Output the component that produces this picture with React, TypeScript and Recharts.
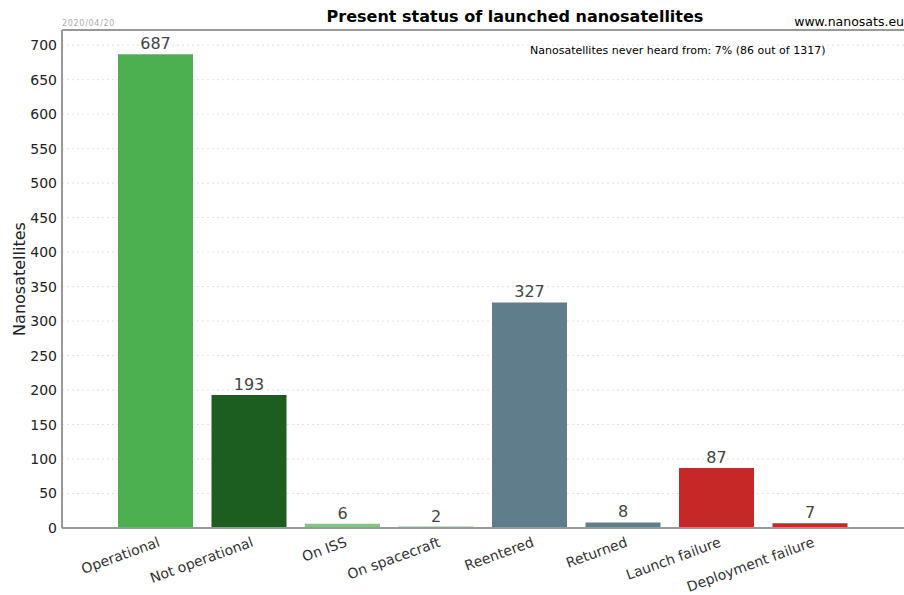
import { BarChart, Bar, XAxis, YAxis, CartesianGrid, Cell, LabelList, ReferenceLine } from "recharts";

const categories = [
  "Operational",
  "Not operational",
  "On ISS",
  "On spacecraft",
  "Reentered",
  "Returned",
  "Launch failure",
  "Deployment failure",
];
const counts = [687, 193, 6, 2, 327, 8, 87, 7];
const barColors = ["#4caf50", "#1b5e20", "#81c784", "#81c784", "#607d8b", "#607d8b", "#c62828", "#c62828"];
const yTicks = [0, 50, 100, 150, 200, 250, 300, 350, 400, 450, 500, 550, 600, 650, 700];
const Y_MAX = 722;

const FONT = "'DejaVu Sans', sans-serif";

const chartData = categories.map((name, i) => ({ name, value: counts[i] }));

const RotatedTick = (props: any) => {
  const { x, y, payload } = props;
  return (
    <g transform={`translate(${x + 5},${y + 10})`}>
      <text transform="rotate(-20)" textAnchor="end" fontSize={14} fill="#333" fontFamily={FONT}>
        {payload.value}
      </text>
    </g>
  );
};

export default function App() {
  return (
    <div style={{ position: "fixed", top: 0, left: 0, width: 904, height: 595, background: "#fff", fontFamily: FONT }}>
      <div style={{ position: "absolute", left: 0, width: 904, top: 7, textAlign: "center", paddingLeft: 126, boxSizing: "border-box", fontSize: 16, fontWeight: "bold", color: "#000" }}>
        Present status of launched nanosatellites
      </div>
      <div style={{ position: "absolute", right: 0, top: 14, fontSize: 12.5, color: "#000" }}>www.nanosats.eu</div>
      <div style={{ position: "absolute", left: 62, top: 19, fontSize: 8, letterSpacing: 0.7, color: "#aaa" }}>2020/04/20</div>
      <div style={{ position: "absolute", left: 530, top: 44, fontSize: 11, color: "#000" }}>
        Nanosatellites never heard from: 7% (86 out of 1317)
      </div>
      <BarChart
        width={904}
        height={595}
        data={chartData}
        margin={{ top: 30, right: 0, left: 0, bottom: 0 }}
        style={{ position: "absolute", top: 0, left: 0 }}
      >
        <CartesianGrid vertical={false} stroke="#e0e0e0" strokeDasharray="2 3" />
        <XAxis
          dataKey="name"
          interval={0}
          tick={<RotatedTick />}
          tickLine={false}
          axisLine={{ stroke: "#999", strokeWidth: 2 }}
          padding={{ left: 47, right: 47 }}
          height={67}
        />
        <YAxis
          domain={[0, Y_MAX]}
          ticks={yTicks}
          width={62}
          tickLine={false}
          tickSize={0}
          axisLine={{ stroke: "#999", strokeWidth: 2 }}
          tick={{ fontSize: 14, fill: "#222", fontFamily: FONT }}
          tickMargin={5}
          label={{
            value: "Nanosatellites",
            angle: -90,
            position: "insideLeft",
            offset: 19,
            style: { textAnchor: "middle", fontSize: 16, fill: "#222", fontFamily: FONT },
          }}
          allowDataOverflow
        />
        <ReferenceLine y={Y_MAX} stroke="#999" strokeWidth={2} />
        <Bar dataKey="value" barSize={75} isAnimationActive={false}>
          {chartData.map((d, i) => (
            <Cell key={d.name} fill={barColors[i]} />
          ))}
          <LabelList dataKey="value" position="top" offset={5} style={{ fontSize: 16, fill: "#444", fontFamily: FONT }} />
        </Bar>
      </BarChart>
    </div>
  );
}
